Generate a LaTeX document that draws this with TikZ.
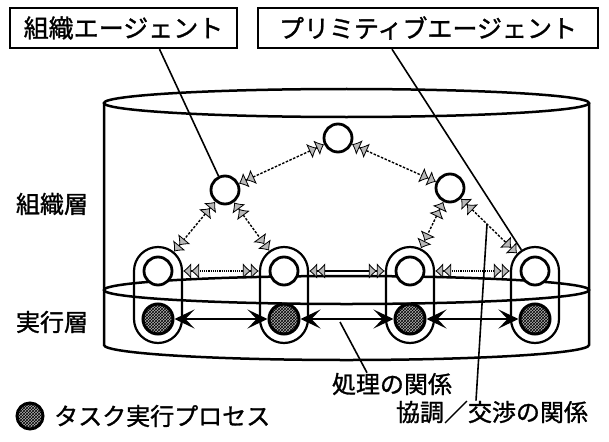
\documentclass[tikz,border=0pt]{standalone}
\usepackage{fontspec}
\newfontfamily\jp{Noto Sans CJK JP}[FakeBold=1.2]
\usetikzlibrary{arrows.meta,patterns}
\begin{document}
\begin{tikzpicture}[x=1pt,y=-1pt,
  lbl/.style={font=\jp\fontsize{24}{26}\selectfont, inner sep=0pt},
  agentbox/.style={draw, line width=2.4pt, inner sep=0pt, minimum height=40pt, font=\jp\fontsize{25}{27}\selectfont},
  agent/.style={circle, draw, line width=2.8pt, fill=white, minimum size=28pt, inner sep=0pt},
  task/.style={circle, draw, line width=3pt, fill=gray!60, postaction={pattern=crosshatch}, minimum size=30pt, inner sep=0pt},
  outer/.style={circle, minimum size=50pt, inner sep=0pt},
  capsule/.style={draw, line width=2.2pt, rounded corners=24pt},
  wall/.style={line width=2.5pt},
  leader/.style={line width=1.6pt},
  treeedge/.style={line width=1.4pt, dash pattern=on 2.5pt off 1.5pt,
    {Latex[length=8pt,width=16pt,fill=gray!55,line width=0.8pt]Latex[length=8pt,width=16pt,fill=gray!55,line width=0.8pt]}-{Latex[length=8pt,width=16pt,fill=gray!55,line width=0.8pt]Latex[length=8pt,width=16pt,fill=gray!55,line width=0.8pt]}},
  capedge/.style={line width=2.8pt,
    {Latex[length=8pt,width=16pt,fill=gray!55,line width=0.8pt]Latex[length=8pt,width=16pt,fill=gray!55,line width=0.8pt]}-{Latex[length=8pt,width=16pt,fill=gray!55,line width=0.8pt]Latex[length=8pt,width=16pt,fill=gray!55,line width=0.8pt]}},
  proc/.style={line width=2pt, {Stealth[length=20pt,width=19pt,inset=9pt]}-{Stealth[length=20pt,width=19pt,inset=9pt]}}
]
\useasboundingbox (0,0) rectangle (609,441);

% cylinder
\draw[wall] (346.5,103) ellipse [x radius=242.5, y radius=14];
\draw[wall] (346.5,290) ellipse [x radius=242.5, y radius=14];
\draw[wall] (104,103) -- (104,345) arc[start angle=180, end angle=0, x radius=242.5, y radius=15] -- (589,103);

% boxes
\node[agentbox, minimum width=227pt] (A) at (123.5,28) {組織エージェント};
\node[agentbox, minimum width=340pt] (B) at (428,28) {プリミティブエージェント};

% capsules
\foreach \i/\x in {1/158,2/284,3/410,4/535}{
  \draw[capsule] (\x-24,247) rectangle (\x+24,343);
  \node[agent] (U\i) at (\x,271) {};
  \node[outer] (O\i) at (\x,271) {};
  \node[task] (D\i) at (\x,319) {};
}

% organisation agents
\node[agent] (T) at (338,138) {};
\node[agent] (ML) at (225,190) {};
\node[agent] (MR) at (450,188) {};

% coordination edges
\draw[treeedge] (T) -- (ML);
\draw[treeedge] (T) -- (MR);
\draw[treeedge] (ML) -- (O1);
\draw[treeedge] (ML) -- (O2);
\draw[treeedge] (MR) -- (O3);
\draw[treeedge] (MR) -- (O4);
\draw[capedge, dash pattern=on 1.2pt off 1pt] (O1) -- (O2);
\draw[capedge] (O2) -- (O3);
\draw[capedge, dash pattern=on 1.2pt off 1pt] (O3) -- (O4);

% processing arrows
\draw[proc] (D1) -- (D2);
\draw[proc] (D2) -- (D3);
\draw[proc] (D3) -- (D4);

% labels
\node[lbl] (L1) at (52,204) {組織層};
\node[lbl] (L2) at (52,322) {実行層};
\node[lbl] (P) at (392,384) {処理の関係};
\node[lbl] (K) at (492,412) {協調／交渉の関係};
\node[task, minimum size=26pt] (LD) at (30,416) {};
\node[lbl, anchor=west] (LT) at (54,416) {タスク実行プロセス};

% leaders
\coordinate (pa) at (340,322);
\coordinate (ka) at (487,224);
\draw[leader] ([xshift=-25pt]P.north) -- (pa);
\draw[leader] ([xshift=-16pt]K.north) -- (ka);
\draw[leader] ([xshift=36pt]A.south) -- (ML);
\draw[leader] ([xshift=-36pt]B.south) -- (O4);
\end{tikzpicture}
\end{document}
